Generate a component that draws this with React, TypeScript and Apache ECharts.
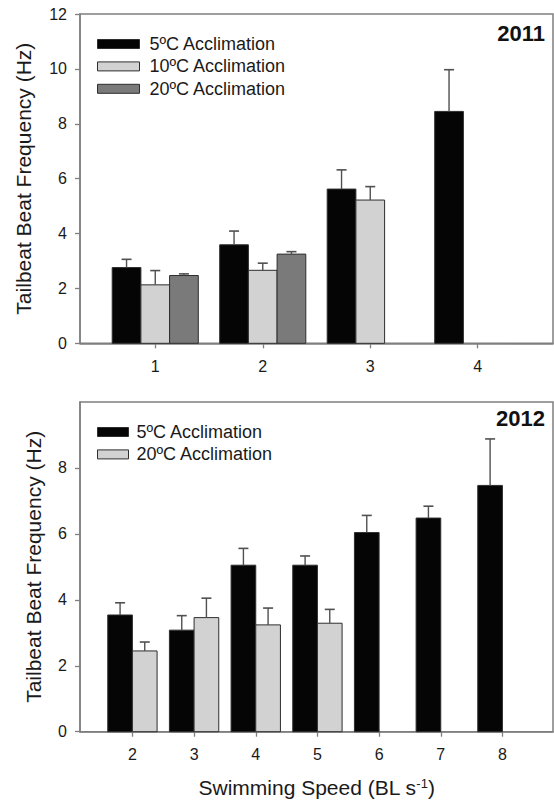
import React, { useEffect, useRef } from "react";
import * as echarts from "echarts";

// ---- data ----
const seriesNames2011 = ["5ºC Acclimation", "10ºC Acclimation", "20ºC Acclimation"];
const speeds2011 = [1, 2, 3, 4];
const mean5C2011 = [2.76, 3.59, 5.62, 8.45];
const se5C2011 = [0.3, 0.5, 0.7, 1.52];
const mean10C2011 = [2.13, 2.66, 5.22, null];
const se10C2011 = [0.52, 0.26, 0.49, null];
const mean20C2011 = [2.47, 3.25, null, null];
const se20C2011 = [0.06, 0.09, null, null];
const yTicks2011 = [0, 2, 4, 6, 8, 10, 12];

const seriesNames2012 = ["5ºC Acclimation", "20ºC Acclimation"];
const speeds2012 = [2, 3, 4, 5, 6, 7, 8];
const mean5C2012 = [3.54, 3.08, 5.05, 5.05, 6.04, 6.48, 7.47];
const se5C2012 = [0.37, 0.44, 0.51, 0.28, 0.52, 0.36, 1.41];
const mean20C2012 = [2.45, 3.46, 3.24, 3.29, null, null, null];
const se20C2012 = [0.27, 0.59, 0.51, 0.42, null, null, null];
const yTicks2012 = [0, 2, 4, 6, 8];

const panelYears = ["2011", "2012"];
const yTitle = "Tailbeat Beat Frequency (Hz)";
const xTitle = "Swimming Speed (BL s{sup|-1})";

// ---- styles ----
const FONT = "'Liberation Sans', Arial, Helvetica, sans-serif";
const BLACK = "#050505";
const LIGHT = "#d2d2d2";
const DARK = "#7a7a7a";
const AXIS = "#7f7f7f";
const TEXT = "#1a1a1a";
const BAR_EDGE = "#2e2e2e";
const ERR = "#505050";

function rows(xs: number[], means: (number | null)[], ses: (number | null)[]) {
  const out: number[][] = [];
  xs.forEach((x, i) => {
    const m = means[i];
    const s = ses[i];
    if (m != null) out.push([x, m, s == null ? 0 : s]);
  });
  return out;
}

function barRenderer(offset: number, width: number, fill: string) {
  return (params: any, api: any) => {
    const x = api.value(0);
    const y = api.value(1);
    const se = api.value(2);
    const p0 = api.coord([x + offset - width / 2, 0]);
    const p1 = api.coord([x + offset + width / 2, y]);
    const c = api.coord([x + offset, y]);
    const e = api.coord([x + offset, y + se]);
    return {
      type: "group",
      children: [
        {
          type: "rect",
          shape: { x: p0[0], y: p1[1], width: p1[0] - p0[0], height: p0[1] - p1[1] },
          style: { fill, stroke: BAR_EDGE, lineWidth: 1 },
        },
        {
          type: "line",
          shape: { x1: c[0], y1: c[1], x2: e[0], y2: e[1] },
          style: { stroke: ERR, lineWidth: 1.4 },
        },
        {
          type: "line",
          shape: { x1: e[0] - 5, y1: e[1], x2: e[0] + 5, y2: e[1] },
          style: { stroke: ERR, lineWidth: 1.6 },
        },
      ],
    };
  };
}

export default function App() {
  const ref = useRef<HTMLDivElement>(null);

  useEffect(() => {
    if (!ref.current) return;
    const chart = echarts.init(ref.current, undefined, { renderer: "svg" });

    const w2011 = 0.267;
    const w2012 = 0.4;

    const axisCommon = {
      axisLine: { show: true, lineStyle: { color: AXIS, width: 1.5 } },
      axisTick: { show: true, inside: false, length: 5, lineStyle: { color: AXIS, width: 1.3 } },
      splitLine: { show: false },
    };

    const option: any = {
      animation: false,
      textStyle: { fontFamily: FONT },
      title: [
        {
          text: panelYears[0],
          right: 9,
          top: 22,
          padding: 0,
          textStyle: { fontSize: 22, fontWeight: "bold", color: "#111", fontFamily: FONT },
        },
        {
          text: panelYears[1],
          right: 9,
          top: 407,
          padding: 0,
          textStyle: { fontSize: 22, fontWeight: "bold", color: "#111", fontFamily: FONT },
        },
      ],
      legend: [
        {
          orient: "vertical",
          left: 97,
          top: 35,
          padding: 0,
          itemGap: 4.4,
          itemWidth: 42,
          itemHeight: 9,
          icon: "rect",
          selectedMode: false,
          textStyle: { fontSize: 18, lineHeight: 18, color: TEXT, fontFamily: FONT, padding: [0, 0, 0, 5] },
          data: [
            { name: seriesNames2011[0], itemStyle: { color: BLACK, borderColor: BAR_EDGE, borderWidth: 1 } },
            { name: seriesNames2011[1], itemStyle: { color: LIGHT, borderColor: BAR_EDGE, borderWidth: 1 } },
            { name: seriesNames2011[2], itemStyle: { color: DARK, borderColor: BAR_EDGE, borderWidth: 1 } },
          ],
        },
        {
          orient: "vertical",
          left: 97,
          top: 423,
          padding: 0,
          itemGap: 4.4,
          itemWidth: 31,
          itemHeight: 9,
          icon: "rect",
          selectedMode: false,
          textStyle: { fontSize: 18, lineHeight: 18, color: TEXT, fontFamily: FONT, padding: [0, 0, 0, 3] },
          data: [
            { name: seriesNames2012[0], itemStyle: { color: BLACK, borderColor: BAR_EDGE, borderWidth: 1 } },
            { name: seriesNames2012[1], itemStyle: { color: LIGHT, borderColor: BAR_EDGE, borderWidth: 1 } },
          ],
        },
      ],
      grid: [
        { left: 80, top: 14, width: 473, height: 329.3, show: true, borderColor: AXIS, borderWidth: 1.5, backgroundColor: "transparent" },
        { left: 80, top: 402, width: 473, height: 329.7, show: true, borderColor: AXIS, borderWidth: 1.5, backgroundColor: "transparent" },
      ],
      xAxis: [
        {
          type: "value",
          gridIndex: 0,
          min: 0.3,
          max: 4.7,
          ...axisCommon,
          axisTick: { ...axisCommon.axisTick, customValues: speeds2011 },
          axisLabel: { customValues: speeds2011, fontSize: 16, color: TEXT, margin: 15, fontFamily: FONT },
        },
        {
          type: "value",
          gridIndex: 1,
          min: 1.15,
          max: 8.82,
          ...axisCommon,
          axisTick: { ...axisCommon.axisTick, customValues: speeds2012 },
          axisLabel: { customValues: speeds2012, fontSize: 16, color: TEXT, margin: 15, fontFamily: FONT },
          name: xTitle,
          nameLocation: "middle",
          nameGap: 45,
          nameTextStyle: {
            fontSize: 21,
            color: TEXT,
            fontFamily: FONT,
            rich: { sup: { fontSize: 13, verticalAlign: "top", lineHeight: 12, color: TEXT, fontFamily: FONT } },
          },
        },
      ],
      yAxis: [
        {
          type: "value",
          gridIndex: 0,
          min: 0,
          max: 12,
          interval: 2,
          ...axisCommon,
          axisTick: { ...axisCommon.axisTick, customValues: yTicks2011 },
          axisLabel: { customValues: yTicks2011, fontSize: 16, color: TEXT, margin: 13, fontFamily: FONT },
          name: yTitle,
          nameLocation: "middle",
          nameGap: 46,
          nameTextStyle: { fontSize: 21, color: TEXT, fontFamily: FONT },
        },
        {
          type: "value",
          gridIndex: 1,
          min: 0,
          max: 10,
          interval: 2,
          ...axisCommon,
          axisTick: { ...axisCommon.axisTick, customValues: yTicks2012 },
          axisLabel: { customValues: yTicks2012, fontSize: 16, color: TEXT, margin: 13, fontFamily: FONT },
          name: yTitle,
          nameLocation: "middle",
          nameGap: 36,
          nameTextStyle: { fontSize: 21, color: TEXT, fontFamily: FONT },
        },
      ],
      series: [
        {
          type: "custom",
          name: seriesNames2011[0],
          xAxisIndex: 0,
          yAxisIndex: 0,
          itemStyle: { color: BLACK },
          encode: { x: 0, y: 1 },
          data: rows(speeds2011, mean5C2011, se5C2011),
          renderItem: barRenderer(-w2011, w2011, BLACK),
        },
        {
          type: "custom",
          name: seriesNames2011[1],
          xAxisIndex: 0,
          yAxisIndex: 0,
          itemStyle: { color: LIGHT },
          encode: { x: 0, y: 1 },
          data: rows(speeds2011, mean10C2011, se10C2011),
          renderItem: barRenderer(0, w2011, LIGHT),
        },
        {
          type: "custom",
          name: seriesNames2011[2],
          xAxisIndex: 0,
          yAxisIndex: 0,
          itemStyle: { color: DARK },
          encode: { x: 0, y: 1 },
          data: rows(speeds2011, mean20C2011, se20C2011),
          renderItem: barRenderer(w2011, w2011, DARK),
        },
        {
          type: "custom",
          name: seriesNames2012[0],
          xAxisIndex: 1,
          yAxisIndex: 1,
          itemStyle: { color: BLACK },
          encode: { x: 0, y: 1 },
          data: rows(speeds2012, mean5C2012, se5C2012),
          renderItem: barRenderer(-w2012 / 2, w2012, BLACK),
        },
        {
          type: "custom",
          name: seriesNames2012[1],
          xAxisIndex: 1,
          yAxisIndex: 1,
          itemStyle: { color: LIGHT },
          encode: { x: 0, y: 1 },
          data: rows(speeds2012, mean20C2012, se20C2012),
          renderItem: barRenderer(w2012 / 2, w2012, LIGHT),
        },
      ],
    };

    chart.setOption(option);
    return () => {
      chart.dispose();
    };
  }, []);

  return (
    <div
      ref={ref}
      style={{ position: "fixed", left: 0, top: 0, width: 554, height: 805, background: "#fff" }}
    />
  );
}
